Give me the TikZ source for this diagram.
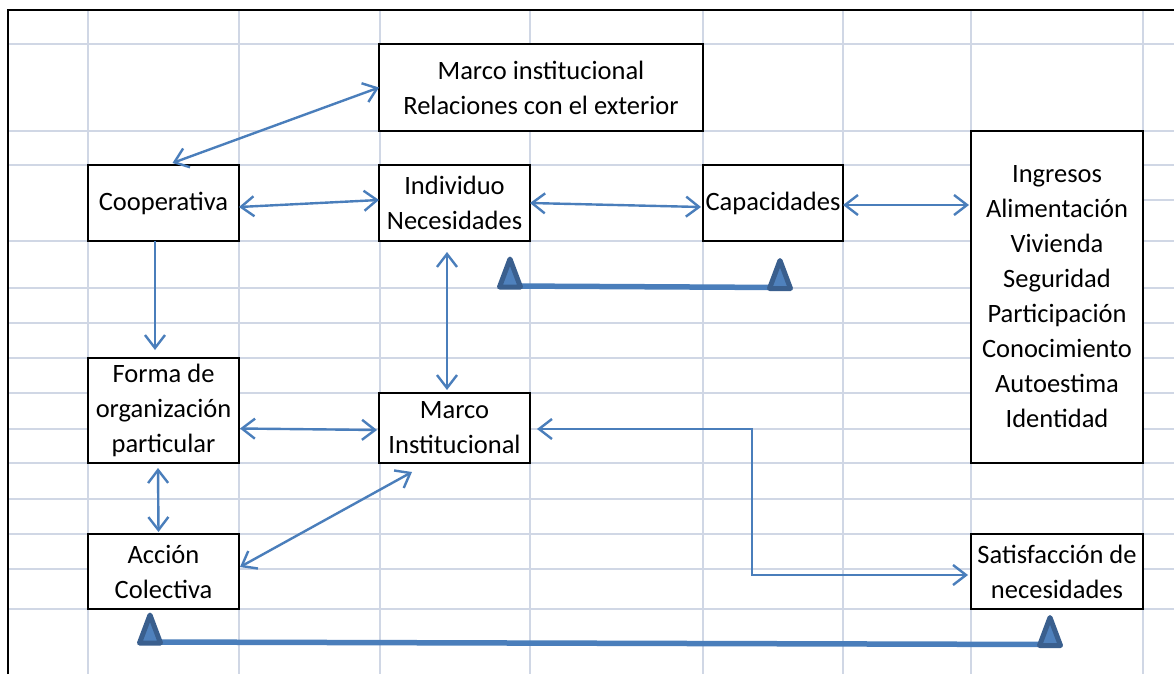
\documentclass[tikz,border=0pt]{standalone}
\usepackage{fontspec}
\setmainfont{Carlito}
\usetikzlibrary{arrows.meta}
\definecolor{gridc}{HTML}{D0D7E5}
\definecolor{arrc}{HTML}{4A7EBB}
\definecolor{trifill}{HTML}{4F81BD}
\definecolor{triedge}{HTML}{3A5F8E}
\tikzset{
  gridline/.style={draw=gridc, line width=1.7pt},
  box/.style={draw=black, line width=2.3pt, fill=white, inner sep=0pt, outer sep=0pt,
    align=center, font=\fontsize{26.5pt}{35pt}\selectfont},
  arr/.style={draw=arrc, line width=2.4pt},
  thickbar/.style={draw=arrc, line width=5.5pt},
  trimark/.pic={\filldraw[fill=trifill, draw=triedge, line width=5pt, line join=round]
    (-10.5,1) -- (0,-27) -- (10.5,1) -- cycle;}
}
\begin{document}
\begin{tikzpicture}[x=1pt,y=-1pt,>={Straight Barb[length=13pt,width=20pt]}]
\useasboundingbox (0,0) rectangle (1174,674);
\fill[white] (0,0) rectangle (1174,674);
% spreadsheet grid
\foreach \gx in {88,239,380,530,703,843,971,1143} \draw[gridline] (\gx,10) -- (\gx,674);
\foreach \gy in {44,131,165,241,288,323,358,393,429,463,499,534,569,609} \draw[gridline] (8,\gy) -- (1174,\gy);
\draw[gridline] (1143,200) -- (1174,200);
\draw[black, line width=2.5pt] (8,674) -- (8,10) -- (1174,10);
% boxes
\node[box, minimum width=324pt, minimum height=87pt] (mext) at (541,87.5) {Marco institucional\\Relaciones con el exterior};
\node[box, minimum width=151pt, minimum height=76pt] (coop) at (163.5,203) {Cooperativa};
\node[box, minimum width=151pt, minimum height=76pt] (ind) at (454.5,203) {Individuo\\Necesidades};
\node[box, minimum width=140pt, minimum height=76pt] (cap) at (773,203) {Capacidades};
\node[box, minimum width=172pt, minimum height=332pt] (ing) at (1057,297) {Ingresos\\Alimentación\\Vivienda\\Seguridad\\Participación\\Conocimiento\\Autoestima\\Identidad};
\node[box, minimum width=151pt, minimum height=105pt] (forma) at (163.5,410.5) {Forma de\\organización\\particular};
\node[box, minimum width=151pt, minimum height=70pt] (minst) at (454.5,428) {Marco\\Institucional};
\node[box, minimum width=151pt, minimum height=75pt] (acc) at (163.5,571.5) {Acción\\Colectiva};
\node[box, minimum width=172pt, minimum height=75pt] (sat) at (1057,571.5) {Satisfacción de\\necesidades};
% connectors
\draw[arr,<->] (mext.west) -- ([xshift=9pt,yshift=2pt]coop.north);
\draw[arr,<->] ([yshift=-4pt]coop.east) -- ([yshift=3pt]ind.west);
\draw[arr,<->] (ind.east) -- ([yshift=-4pt,xshift=-2pt]cap.west);
\draw[arr,<->] ([yshift=-2pt]cap.east) -- ([yshift=-2pt,xshift=-2pt]cap.east -| ing.west);
\draw[arr,->] ([xshift=-8.5pt]coop.south) -- ([xshift=-8.5pt,yshift=8pt]forma.north);
\draw[arr,<->] ([xshift=-7.5pt,yshift=-11pt]ind.south) -- ([xshift=-7.5pt,yshift=3pt]minst.north);
\draw[arr,<->] ([yshift=-18pt,xshift=1pt]forma.east) -- ([yshift=-2pt,xshift=-2pt]minst.west);
\draw[arr,<->] ([xshift=-5.5pt,yshift=-5pt]forma.south) -- ([xshift=-5pt,yshift=2pt]acc.north);
\draw[arr,<->] ([yshift=4.5pt,xshift=1pt]acc.east) -- ([xshift=-42.5pt,yshift=-9pt]minst.south);
\draw[arr,<->] ([xshift=7pt,yshift=-1pt]minst.east) -- ++(215,0) |- ([xshift=-3pt,yshift=-3.5pt]sat.west);
% thick bars with triangles
\coordinate (t1) at (510,286);
\coordinate (t2) at (780,287.5);
\coordinate (t3) at (150,642);
\coordinate (t4) at (1050,644.5);
\draw[thickbar] (t1) -- (t2);
\draw[thickbar] (t3) -- (t4);
\pic at (t1) {trimark};
\pic at (t2) {trimark};
\pic at (t3) {trimark};
\pic at (t4) {trimark};
\end{tikzpicture}
\end{document}
